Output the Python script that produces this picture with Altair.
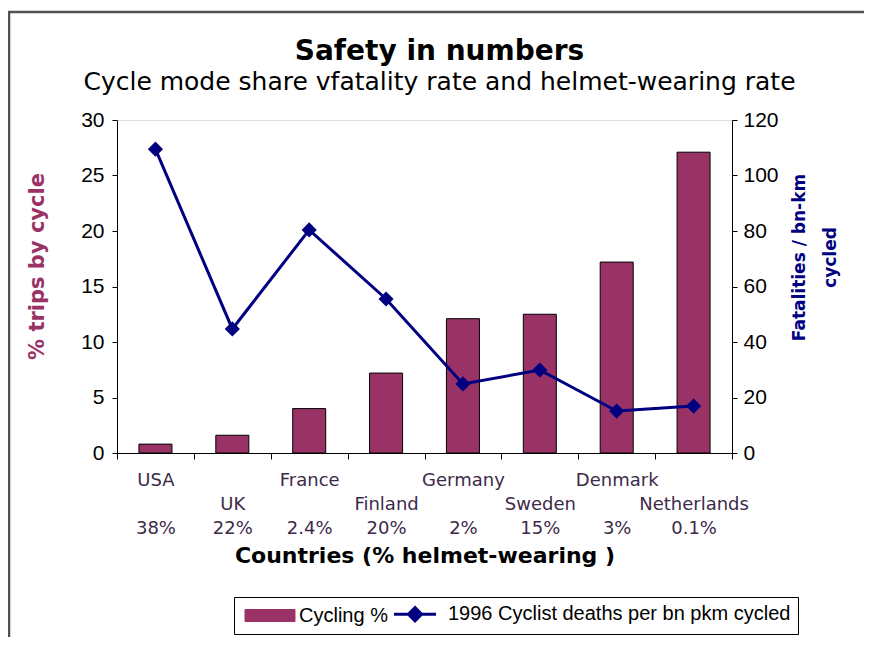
import altair as alt
import pandas as pd

countries = ["USA", "UK", "France", "Finland", "Germany", "Sweden", "Denmark", "Netherlands"]
helmet = ["38%", "22%", "2.4%", "20%", "2%", "15%", "3%", "0.1%"]
cycling = [0.8, 1.6, 4.0, 7.2, 12.1, 12.5, 17.2, 27.1]
deaths = [109.5, 44.7, 80.4, 55.5, 24.9, 29.9, 15.1, 16.9]

BAR = "Cycling %"
LINE = "1996 Cyclist deaths per bn pkm cycled"

BLANK = "\u2800"
labels = []
for i, (c, h) in enumerate(zip(countries, helmet)):
    labels.append(f"{c}|{BLANK}|{h}" if i % 2 == 0 else f"{BLANK}|{c}|{h}")

df = pd.DataFrame({"label": labels, "cycling": cycling, "deaths": deaths})

W, H = 615, 333
LABEL_COLOR = "#3d2a4a"

x_enc = alt.X(
    "label:N", sort=None,
    scale=alt.Scale(paddingInner=0, paddingOuter=0),
    axis=alt.Axis(
        title="Countries (% helmet-wearing )",
        labelExpr="split(datum.label, '|')",
        labelAngle=0, tickBand="extent", labelFont="DejaVu Sans", labelFontSize=18,
        labelColor=LABEL_COLOR, labelLineHeight=24, labelPadding=12, tickSize=6,
        tickColor="black", domainColor="black", titleFont="DejaVu Sans",
        titleFontSize=22, titleFontWeight="bold", titleColor="black", titlePadding=8,
    ),
)

color_scale = alt.Scale(domain=[BAR, LINE], range=["#993366", "#000080"])

bar_path = "M-1,-1H7.33V1H-1Z"
line_path = "M-1,0H6M2.5,-1.1L3.6,0L2.5,1.1L1.4,0Z"
is_bar = f"datum.value === '{BAR}'"

legend = alt.Legend(
    title=None, orient="none", legendX=117, legendY=477, direction="horizontal",
    columns=2, columnPadding=0, padding=7, strokeColor="black", fillColor="white",
    labelFont="Liberation Sans", labelFontSize=20, labelColor="black", labelOffset=38,
    labelLimit=0, symbolSize=144, symbolOpacity=1,
    symbolType={"expr": f"{is_bar} ? '{bar_path}' : '{line_path}'"},
    symbolStrokeWidth={"expr": f"{is_bar} ? 1 : 3"},
    symbolStrokeColor={"expr": f"{is_bar} ? 'black' : '#000080'"},
)

base = alt.Chart(df)

bars = base.transform_calculate(series=f"'{BAR}'").mark_bar(
    size=33, stroke="black", strokeWidth=1
).encode(
    x=x_enc,
    y=alt.Y("cycling:Q", scale=alt.Scale(domain=[0, 30]),
            axis=alt.Axis(orient="left", values=[0, 5, 10, 15, 20, 25, 30], grid=False,
                          title="% trips by cycle", titleColor="#993366", titleFontWeight="bold",
                          titleFont="DejaVu Sans", titleFontSize=21, titlePadding=33,
                          titleY=146, labelFont="Liberation Sans", labelFontSize=21,
                          labelColor="black", labelPadding=8, tickSize=5, tickColor="black",
                          domainColor="black")),
    color=alt.Color("series:N", scale=color_scale, legend=legend),
)

line = base.transform_calculate(series=f"'{LINE}'").mark_line(
    strokeWidth=3,
    point=alt.OverlayMarkDef(shape="diamond", size=230, filled=True, opacity=1),
).encode(
    x=x_enc,
    y=alt.Y("deaths:Q", scale=alt.Scale(domain=[0, 120]),
            axis=alt.Axis(orient="right", values=[0, 20, 40, 60, 80, 100, 120], grid=False,
                          title=["Fatalities / bn-km", "cycled"], titleAngle=270,
                          titleBaseline="top", titleColor="#000080", titleFontWeight="bold",
                          titleFont="DejaVu Sans", titleFontSize=17, titleLineHeight=31,
                          titleX=59, titleY=137, labelFont="Liberation Sans", labelFontSize=21,
                          labelColor="black", labelPadding=6, tickSize=5, tickColor="black",
                          domainColor="black")),
    color=alt.Color("series:N", scale=color_scale, legend=legend),
)

frame = alt.Chart(pd.DataFrame({"f": [1]})).mark_rect(
    fillOpacity=0, stroke="#505050", strokeWidth=2.5
).encode(
    x=alt.value(-108), x2=alt.value(752), y=alt.value(-108), y2=alt.value(700)
)

chart = alt.layer(frame, bars, line).resolve_scale(y="independent").properties(
    width=W, height=H,
    autosize=alt.AutoSizeParams(type="none"),
    padding={"left": 109, "top": 112, "right": 132, "bottom": 184},
    title=alt.TitleParams(
        text="Safety in numbers",
        subtitle="Cycle mode share vfatality rate and helmet-wearing rate",
        font="DejaVu Sans", fontSize=28, fontWeight="bold", color="black",
        subtitleFont="DejaVu Sans", subtitleFontSize=25, subtitleColor="black",
        subtitlePadding=4, anchor="middle", frame="group", dx=15, offset=-84,
    ),
).configure_view(
    fill="#c0c0c0", stroke="#808080", strokeWidth=1
).configure(background="white")

chart.save("out.html", embed_options={"renderer": "svg", "actions": False})
